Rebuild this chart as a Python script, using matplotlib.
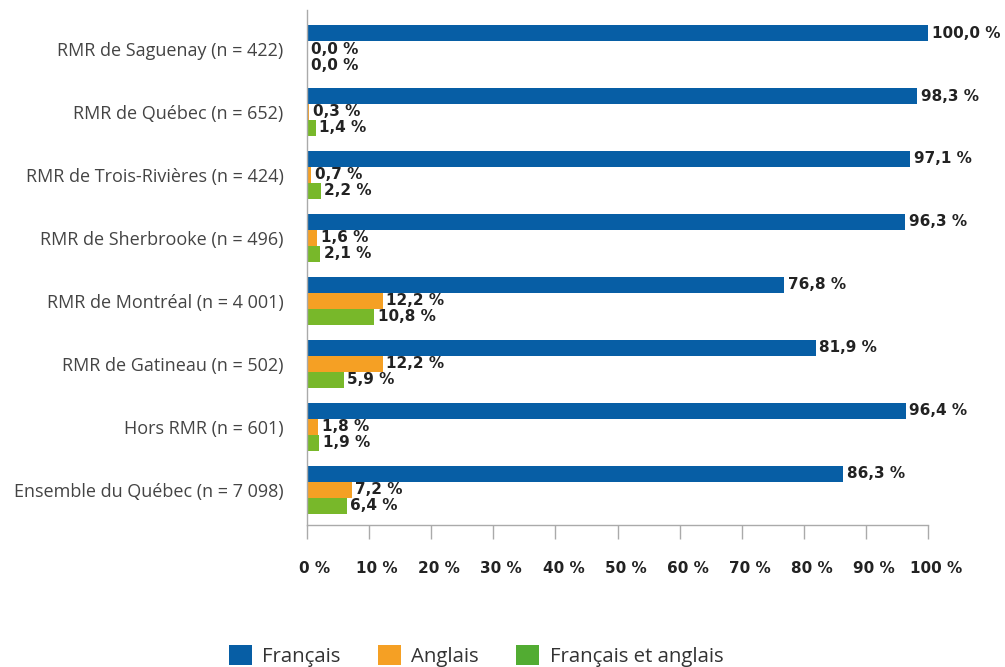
import matplotlib
matplotlib.use("Agg")
import matplotlib.pyplot as plt
from matplotlib.patches import Patch
import matplotlib.transforms as mtransforms
import numpy as np

categories = [
    "RMR de Saguenay (n = 422)",
    "RMR de Québec (n = 652)",
    "RMR de Trois-Rivières (n = 424)",
    "RMR de Sherbrooke (n = 496)",
    "RMR de Montréal (n = 4 001)",
    "RMR de Gatineau (n = 502)",
    "Hors RMR (n = 601)",
    "Ensemble du Québec (n = 7 098)",
]
francais = [100.0, 98.3, 97.1, 96.3, 76.8, 81.9, 96.4, 86.3]
anglais = [0.0, 0.3, 0.7, 1.6, 12.2, 12.2, 1.8, 7.2]
bilingue = [0.0, 1.4, 2.2, 2.1, 10.8, 5.9, 1.9, 6.4]
series_names = ["Français", "Anglais", "Français et anglais"]
xticks = list(range(0, 101, 10))

bar_colors = ["#075EA5", "#F5A024", "#78B82A"]
legend_colors = ["#075EA5", "#F5A024", "#52AC32"]

fig = plt.figure(figsize=(10.05, 6.67), dpi=100)
ax = fig.add_axes([307 / 1005, 1 - 525 / 667, (928 - 307) / 1005, (525 - 10) / 667])

y = np.arange(len(categories))
h = 0.254
offsets = [-h, 0, h]
for vals, off, col in zip([francais, anglais, bilingue], offsets, bar_colors):
    ax.barh(y + off, vals, height=h, color=col, linewidth=0)
    for yy, v in zip(y + off, vals):
        ax.text(v + 0.6, yy, f"{v:.1f} %".replace(".", ","), va="center", ha="left",
                fontsize=11, fontweight="bold", color="#222222", family="DejaVu Sans")

ax.set_xlim(0, 100)
ax.set_ylim(7.56, -0.62)
ax.set_yticks(y)
ax.set_yticklabels(categories, fontsize=13, color="#444444", family="Open Sans")
ax.tick_params(axis="y", length=0, pad=17)
ax.set_xticks(xticks)
ax.set_xticklabels([f"{t} %" for t in xticks], fontsize=11, fontweight="bold",
                   color="#222222", family="DejaVu Sans")
ax.tick_params(axis="x", length=10, width=1, color="#AAAAAA", pad=16)
shift = mtransforms.ScaledTranslation(8 / 100, 0, fig.dpi_scale_trans)
for lbl in ax.get_xticklabels():
    lbl.set_transform(lbl.get_transform() + shift)

for s in ["top", "right"]:
    ax.spines[s].set_visible(False)
for s in ["left", "bottom"]:
    ax.spines[s].set_color("#AAAAAA")
    ax.spines[s].set_linewidth(1)

handles = [Patch(facecolor=c, edgecolor="none") for c in legend_colors]
leg = fig.legend(handles, series_names, loc="lower center", bbox_to_anchor=(476 / 1005, -0.027),
                 ncol=3, frameon=False, handlelength=1.12, handleheight=1.12,
                 columnspacing=1.85, handletextpad=0.5, prop={"family": "Open Sans", "size": 14.7})
for t in leg.get_texts():
    t.set_color("#333333")

fig.savefig("out.png", dpi=100)
